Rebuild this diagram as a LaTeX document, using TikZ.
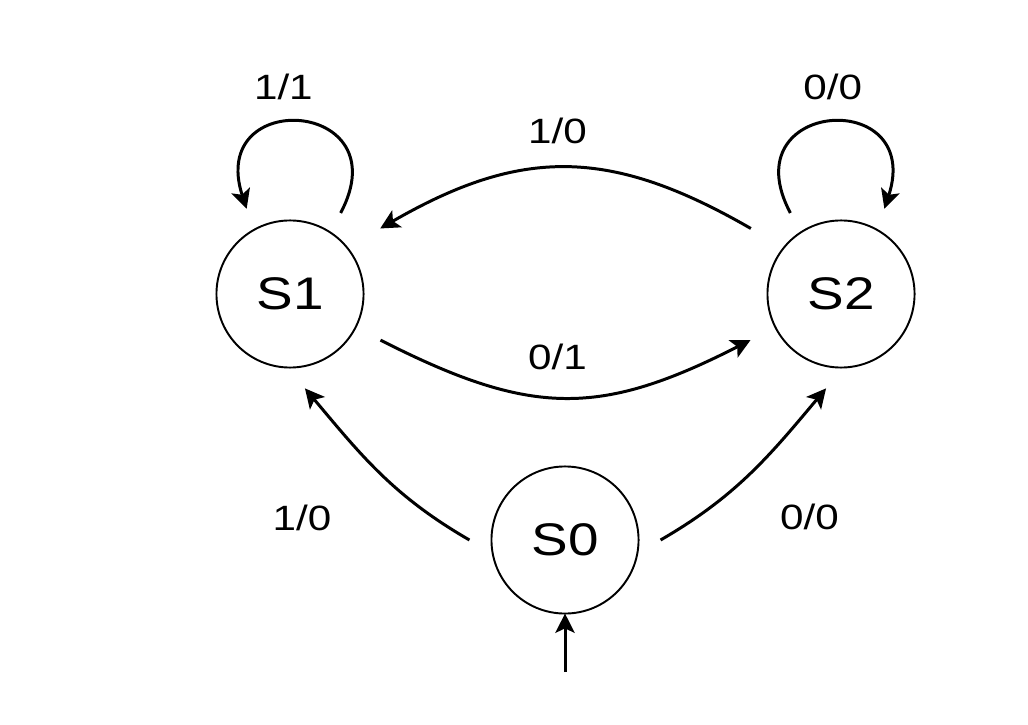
\documentclass[tikz,border=0pt]{standalone}
\usepackage{fontspec}
\setmainfont{Liberation Sans}[FakeStretch=1.2]
\usetikzlibrary{arrows.meta, positioning}

\begin{document}
\begin{tikzpicture}[
  x=0.01cm, y=0.01cm,
  statenode/.style={
    circle, draw=black, line width=0.55pt,
    minimum size=1.47cm, inner sep=0pt, outer sep=0.22cm,
    font=\fontsize{13}{15}\selectfont
  },
  lbl/.style={font=\fontsize{10}{12}\selectfont, inner sep=0pt},
  arr/.style={-{Stealth[length=5.5pt, width=5.5pt, inset=1.3pt]}, line width=0.85pt, black}
]
\useasboundingbox (0,0) rectangle (1028,724);

%% estados
\node[statenode] (s1) at (290,430) {S1};
\node[statenode] (s2) at (841,430) {S2};
\node[statenode] (s0) at (565,184) {S0};
\coordinate (init) at (565,52);

%% lazos
\draw[arr] (s1.58) to[out=62, in=108, looseness=3.5]
  node[lbl, above=0.21cm, xshift=-0.18cm] (l11) {1/1} (s1.117);
\draw[arr] (s2.122) to[out=118, in=72, looseness=3.5]
  node[lbl, above=0.21cm, xshift=0.03cm] (l00top) {0/0} (s2.63);

%% S1 <-> S2
\draw[arr, shorten <=0.16cm, shorten >=0.16cm] (s2.143) to[bend right=30, looseness=1.15]
  node[lbl, above=0.24cm, xshift=-0.08cm] (l10top) {1/0} (s1.37);
\draw[arr, shorten <=0.06cm, shorten >=0.06cm] (s1.-27) to[bend right=27, looseness=1.18]
  node[lbl, above=0.26cm, xshift=-0.08cm] (l01) {0/1} (s2.-153);

%% salidas de S0
\draw[arr] (s0.180) to[out=150, in=-50]
  node[lbl, below left=0.31cm and 0.47cm] (l10) {1/0} (s1.-81);
\draw[arr] (s0.0) to[out=30, in=-130]
  node[lbl, below right=0.30cm and 0.28cm] (l00) {0/0} (s2.-99);

%% entrada
\draw[arr, shorten >=-0.22cm] (init) -- (s0.south);

\end{tikzpicture}
\end{document}
